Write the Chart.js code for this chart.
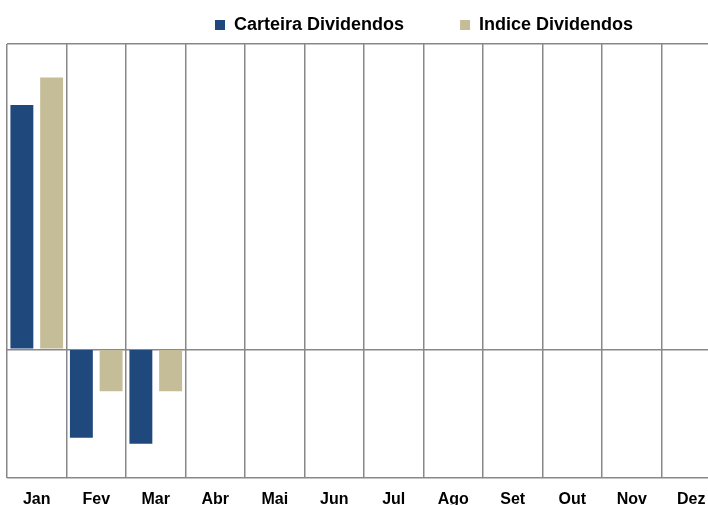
<!DOCTYPE html>
<html>
<head>
<meta charset="utf-8">
<script src="https://cdn.jsdelivr.net/npm/chart.js@4"></script>
<style>
  html, body { margin: 0; padding: 0; background: #fff; overflow: hidden; }
  #wrap { width: 722px; height: 521px; }
</style>
</head>
<body>
<div id="wrap"><canvas id="c" width="722" height="521"></canvas></div>
<script>
const categories = ['Jan', 'Fev', 'Mar', 'Abr', 'Mai', 'Jun', 'Jul', 'Ago', 'Set', 'Out', 'Nov', 'Dez'];
const seriesNames = ['Carteira Dividendos', 'Indice Dividendos'];
const carteira = [7.6, -2.75, -2.94, null, null, null, null, null, null, null, null, null];
const indice = [8.46, -1.31, -1.31, null, null, null, null, null, null, null, null, null];
const yTicks = [-4, 0, 9.5];

const FONT = "'Liberation Sans', Arial, sans-serif";

const legendShift = {
  id: 'legendShift',
  afterLayout(chart) {
    if (chart.legend) { chart.legend.left = 204; }
  }
};

new Chart(document.getElementById('c'), {
  type: 'bar',
  data: {
    labels: categories,
    datasets: [
      { label: seriesNames[0], data: carteira, backgroundColor: '#1F497D', borderWidth: 0 },
      { label: seriesNames[1], data: indice, backgroundColor: '#C4BD97', borderWidth: 0 }
    ]
  },
  options: {
    responsive: false,
    animation: false,
    devicePixelRatio: 1,
    datasets: { bar: { categoryPercentage: 1.0, barPercentage: 0.77 } },
    layout: { padding: { left: 7, right: 1, top: 5, bottom: 0 } },
    plugins: {
      tooltip: { enabled: false },
      legend: {
        position: 'top',
        align: 'start',
        labels: {
          boxWidth: 10,
          boxHeight: 10,
          padding: 11,
          color: '#000',
          font: { family: FONT, size: 18, weight: 'bold' },
          generateLabels(chart) {
            const items = Chart.defaults.plugins.legend.labels.generateLabels(chart);
            if (items.length) items[0].text = items[0].text + '         ';
            return items;
          }
        }
      }
    },
    scales: {
      x: {
        offset: true,
        grid: { offset: true, color: '#888888', lineWidth: 1.5, drawTicks: false },
        border: { display: false },
        ticks: { color: '#000', padding: 12, font: { family: FONT, size: 16, weight: 'bold' }, maxRotation: 0, autoSkip: false }
      },
      y: {
        min: yTicks[0],
        max: yTicks[yTicks.length - 1],
        afterBuildTicks(scale) { scale.ticks = yTicks.map(v => ({ value: v })); },
        grid: { color: '#888888', lineWidth: 1.5, drawTicks: false },
        border: { display: false },
        ticks: { display: false }
      }
    }
  },
  plugins: [legendShift]
});
</script>
</body>
</html>
